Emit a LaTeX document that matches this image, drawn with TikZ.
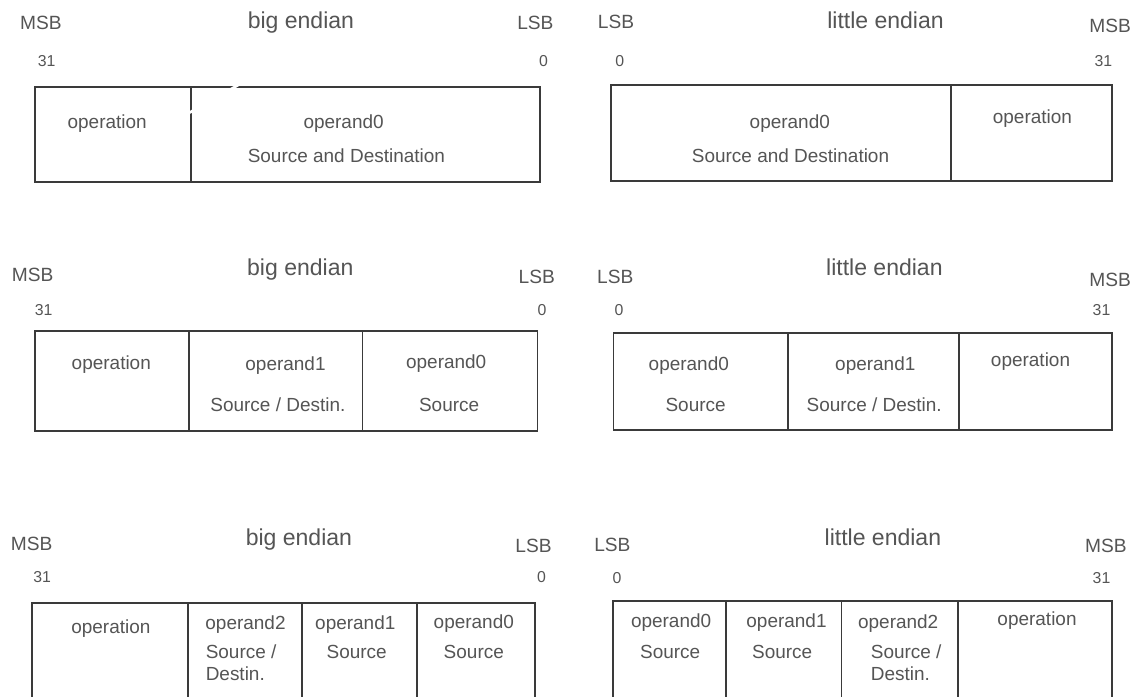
\documentclass[tikz,border=0pt]{standalone}
\usepackage{fontspec}
\setmainfont{Liberation Sans}
\usepackage{xcolor}
\usetikzlibrary{positioning}

\definecolor{inkline}{HTML}{3A3A3A}
\definecolor{inktext}{HTML}{555555}

\begin{document}
\begin{tikzpicture}[x=0.02cm,y=-0.02cm,
    box/.style={draw=inkline, line width=1.1pt},
    ttl/.style={anchor=base, inner sep=0pt, text=inktext, font=\fontsize{13.1}{15}\selectfont},
    sb/.style={anchor=base, inner sep=0pt, text=inktext, font=\fontsize{10.9}{13}\selectfont},
    num/.style={anchor=base, inner sep=0pt, text=inktext, font=\fontsize{9}{11}\selectfont},
    fld/.style={anchor=base, inner sep=0pt, text=inktext, font=\fontsize{10.8}{13}\selectfont},
    fldw/.style={fld, anchor=base west}]
        \useasboundingbox[fill=white] (0,0) rectangle (1138,696);

        % big endian, one operand
        \node[sb]  (msbA) at (40.9,30) {MSB};
        \node[ttl] (ttlA) at (300.9,28.3) {big endian};
        \node[sb]  (lsbA) at (535.4,30) {LSB};
        \node[num] (hiA) at (46.6,66.7) {31};
        \node[num] (loA) at (543.6,66.7) {0};
        \draw[box] (35.2,87.3) rectangle (540,181.7);
        \draw[box] (190.9,87.3) -- (190.9,181.7);
        \draw[white, line width=1.5pt] (240,84) -- (120,152);
        \node[fld] (opA) at (107.2,128.5) {operation};
        \node[fld] (o0A) at (343.6,128.3) {operand0};
        \node[fld] (s0A) at (346.4,162.7) {Source and Destination};

        % little endian, one operand
        \node[sb]  (lsbB) at (616,28.3) {LSB};
        \node[ttl] (ttlB) at (885.5,28.3) {little endian};
        \node[sb]  (msbB) at (1110.2,33) {MSB};
        \node[num] (loB) at (619.8,66.7) {0};
        \node[num] (hiB) at (1103.3,66.7) {31};
        \draw[box] (610.9,85) rectangle (1111.6,181);
        \draw[box] (950.9,85) -- (950.9,181);
        \node[fld] (o0B) at (789.8,128.3) {operand0};
        \node[fld] (s0B) at (790.5,162.3) {Source and Destination};
        \node[fld] (opB) at (1032.4,123.3) {operation};

        % big endian, two operands
        \node[sb]  (msbC) at (32.7,281.7) {MSB};
        \node[ttl] (ttlC) at (300.3,275) {big endian};
        \node[sb]  (lsbC) at (536.7,283.3) {LSB};
        \node[num] (hiC) at (43.6,315) {31};
        \node[num] (loC) at (541.9,315) {0};
        \draw[box] (34.6,331) rectangle (537.5,431);
        \draw[box] (189.1,331) -- (189.1,431);
        \draw[box] (362.5,331) -- (362.5,431);
        \node[fld] (opC) at (111.3,369.3) {operation};
        \node[fld] (o1C) at (285.5,370.7) {operand1};
        \node[fld] (s1C) at (277.9,411.7) {Source / Destin.};
        \node[fld] (o0C) at (446.2,368.3) {operand0};
        \node[fld] (s0C) at (449.1,411.7) {Source};

        % little endian, two operands
        \node[sb]  (lsbD) at (615.2,283.3) {LSB};
        \node[ttl] (ttlD) at (884.4,275) {little endian};
        \node[sb]  (msbD) at (1110.2,286) {MSB};
        \node[num] (loD) at (618.9,315.7) {0};
        \node[num] (hiD) at (1101.5,315.7) {31};
        \draw[box] (613.5,333.3) rectangle (1111.6,430);
        \draw[box] (788,333.3) -- (788,430);
        \draw[box] (958.9,333.3) -- (958.9,430);
        \node[fld] (o0D) at (688.8,370) {operand0};
        \node[fld] (s0D) at (695.6,411.7) {Source};
        \node[fld] (o1D) at (875.3,370.7) {operand1};
        \node[fld] (s1D) at (874.2,411.7) {Source / Destin.};
        \node[fld] (opD) at (1030.5,366) {operation};

        % big endian, three operands
        \node[sb]  (msbE) at (31.6,550) {MSB};
        \node[ttl] (ttlE) at (298.9,545) {big endian};
        \node[sb]  (lsbE) at (533.5,552.7) {LSB};
        \node[num] (hiE) at (42.2,582.7) {31};
        \node[num] (loE) at (541.4,582.7) {0};
        \draw[box] (32,710) -- (32,603.3) -- (535.3,603.3) -- (535.3,710);
        \foreach \xs in {188,301.9,417.1}
          \draw[box] (\xs,603.3) -- (\xs,710);
        \node[fld]  (opE) at (110.9,633.3) {operation};
        \node[fld]  (o2E) at (245.5,629.3) {operand2};
        \node[fldw] (s2E) at (205.4,658.3) {Source /};
        \node[fldw] (d2E) at (205.4,680.7) {Destin.};
        \node[fld]  (o1E) at (355.3,629.3) {operand1};
        \node[fld]  (s1E) at (356.7,658.3) {Source};
        \node[fld]  (o0E) at (473.8,628.3) {operand0};
        \node[fld]  (s0E) at (473.8,658.3) {Source};

        % little endian, three operands
        \node[sb]  (lsbF) at (612.4,551.7) {LSB};
        \node[ttl] (ttlF) at (882.9,545) {little endian};
        \node[sb]  (msbF) at (1105.8,552.7) {MSB};
        \node[num] (loF) at (617.1,583.3) {0};
        \node[num] (hiF) at (1101.5,583.3) {31};
        \draw[box] (612.7,710) -- (612.7,600.7) -- (1111.6,600.7) -- (1111.6,710);
        \foreach \xs in {726.2,841.5,958.3}
          \draw[box] (\xs,600.7) -- (\xs,710);
        \node[fld]  (o0F) at (671.1,627.3) {operand0};
        \node[fld]  (s0F) at (670.2,658.3) {Source};
        \node[fld]  (o1F) at (786.5,627.3) {operand1};
        \node[fld]  (s1F) at (782.2,658.3) {Source};
        \node[fld]  (o2F) at (898.2,628.3) {operand2};
        \node[fldw] (s2F) at (870.5,658.3) {Source /};
        \node[fldw] (d2F) at (870.5,680) {Destin.};
        \node[fld]  (opF) at (1037,625) {operation};

      \end{tikzpicture}
\end{document}
